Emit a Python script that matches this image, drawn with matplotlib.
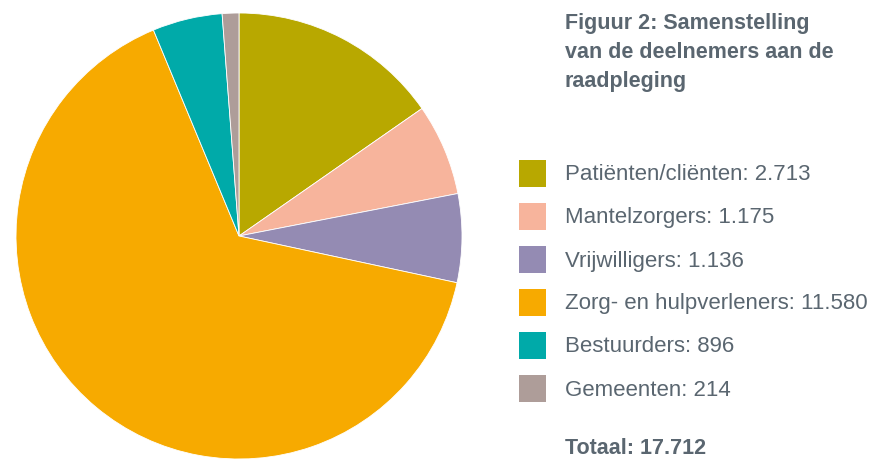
import matplotlib
matplotlib.use("Agg")
from matplotlib import pyplot as plt
from matplotlib.patches import Rectangle

# data
categories = ["Patiënten/cliënten", "Mantelzorgers", "Vrijwilligers",
              "Zorg- en hulpverleners", "Bestuurders", "Gemeenten"]
values = [2713, 1175, 1136, 11580, 896, 214]
colors = ["#b8a800", "#f7b49c", "#948bb3", "#f7aa00", "#00aaa9", "#ae9d99"]
title_lines = ["Figuur 2: Samenstelling", "van de deelnemers aan de", "raadpleging"]
total_label = "Totaal: 17.712"

W, H = 885, 459
text_color = "#5a6670"
plt.rcParams["font.family"] = ["Liberation Sans", "DejaVu Sans"]

fig = plt.figure(figsize=(W / 100, H / 100), dpi=100)

# pie axes: centre (239, 236) px, radius 223 px
cx, cy, r = 239, 236, 223
ax = fig.add_axes([(cx - r) / W, (H - cy - r) / H, 2 * r / W, 2 * r / H])
ax.pie(values, colors=colors, startangle=90, counterclock=False,
       radius=1, wedgeprops=dict(edgecolor="white", linewidth=0.6))
ax.set_xlim(-1, 1)
ax.set_ylim(-1, 1)
ax.set_aspect("equal")
ax.axis("off")

def fx(px):
    return px / W

def fy(py):
    return 1 - py / H

# title
for i, line in enumerate(title_lines):
    fig.text(fx(565), fy(23 + i * 29), line, fontsize=15.5, fontweight="bold",
             color=text_color, va="center", ha="left")

# legend
for i, (cat, val, col) in enumerate(zip(categories, values, colors)):
    yc = 174 + i * 43
    fig.patches.append(Rectangle((fx(519), fy(yc + 13)), 27 / W, 27 / H,
                                 transform=fig.transFigure, facecolor=col,
                                 edgecolor="none"))
    label = f"{cat}: {val:,}".replace(",", ".")
    fig.text(fx(565), fy(yc + 1), label, fontsize=16, color=text_color,
             va="center", ha="left")

# total sits just above the bottom edge
fig.text(fx(565), fy(454), total_label, fontsize=15.5, fontweight="bold",
         color=text_color, va="baseline", ha="left")

fig.savefig("out.png", dpi=100)
